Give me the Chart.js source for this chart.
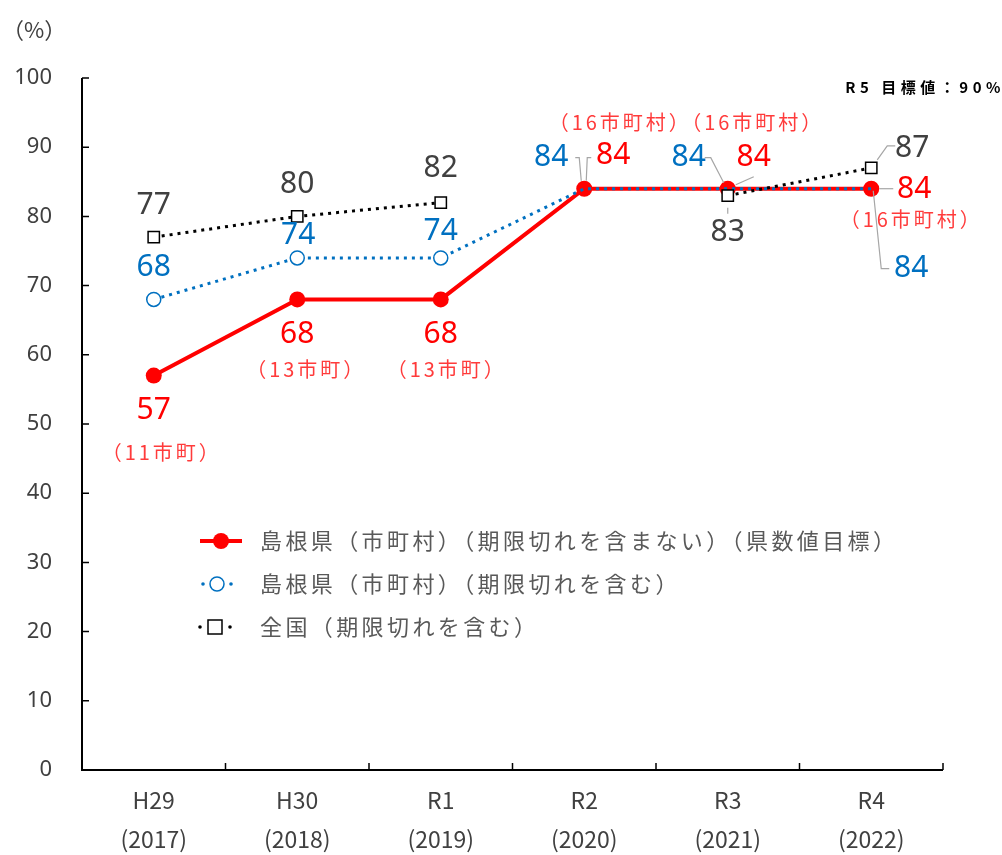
<!DOCTYPE html>
<html lang="ja">
<head>
<meta charset="utf-8">
<script src="https://cdn.jsdelivr.net/npm/chart.js@4"></script>
<style>
  html, body { margin: 0; padding: 0; background: #fff; }
  #wrap { width: 1002px; height: 855px; }
</style>
</head>
<body>
<div id="wrap"><canvas id="chart" width="1002" height="855"></canvas></div>
<script>
const FONT = '"Noto Sans", "Noto Sans CJK JP", sans-serif';
const JP = '"Noto Sans CJK JP", "Noto Sans", sans-serif';

// data
const categories = [['H29', '(2017)'], ['H30', '(2018)'], ['R1', '(2019)'], ['R2', '(2020)'], ['R3', '(2021)'], ['R4', '(2022)']];
const shimaneExcl = [57, 68, 68, 84, 84, 84];
const shimaneIncl = [68, 74, 74, 84, 84, 84];
const national = [77, 80, 82, null, 83, 87];
const municipalities = ['（11市町）', '（13市町）', '（13市町）', '（16市町村）', '（16市町村）', '（16市町村）'];
const yTicks = [0, 10, 20, 30, 40, 50, 60, 70, 80, 90, 100];
const seriesNames = [
  '島根県（市町村）（期限切れを含まない）（県数値目標）',
  '島根県（市町村）（期限切れを含む）',
  '全国（期限切れを含む）'
];
const targetNote = 'R5 目標値：90%';

// label offsets from each point (dx, dy), plus optional leader line
const redLabelPos = [[0, 35], [0, 35], [0, 35], [29, -33], [26, -31], [43, 1]];
const redSubPos = [[8, 77], [9, 70], [6, 70], [36, -66], [25, -66], [40, 31]];
const blueLabelPos = [[0, -32], [1, -22], [0, -26], [-33, -31], [-39, -31], [40, 80]];
const blackLabelPos = [[0, -32], [0, -32], [0, -34], null, [0, 37], [41, -20]];
const blueMarker = [7, 7, 7, 0, 0, 0];
const leaders = [
  // [series, index, points relative to data point]
  ['blue', 3, [[-3, -8], [-5, -31], [-9, -31]]],
  ['red', 3, [[2, -8], [3, -31], [7, -31]]],
  ['blue', 4, [[-4, -6], [-17, -31], [-23, -31]]],
  ['red', 4, [[8, -4], [26, -12]]],
  ['black', 4, [[0, 12], [0, 18]]],
  ['black', 5, [[6, -8], [16, -22], [24, -22]]],
  ['red', 5, [[8, 0], [22, 0]]],
  ['blue', 5, [[2, 2], [10, 80], [18, 80]]]
];

const RED = '#ff0000', BLUE = '#0070c0', DARK = '#404040';

const overlay = {
  id: 'overlay',
  afterDraw(chart) {
    const { ctx, chartArea: a, scales: { x, y } } = chart;
    ctx.save();
    // axes
    ctx.strokeStyle = '#000';
    ctx.lineWidth = 2;
    ctx.beginPath();
    ctx.moveTo(a.left, a.top); ctx.lineTo(a.left, a.bottom); ctx.lineTo(a.right, a.bottom);
    ctx.stroke();
    ctx.lineWidth = 1.5;
    ctx.beginPath();
    yTicks.forEach(v => { const py = y.getPixelForValue(v); ctx.moveTo(a.left, py); ctx.lineTo(a.left + 7, py); });
    const w = (a.right - a.left) / categories.length;
    for (let i = 1; i <= categories.length; i++) {
      const px = a.left + i * w;
      ctx.moveTo(px, a.bottom); ctx.lineTo(px, a.bottom - 7);
    }
    ctx.stroke();

    // leader lines
    const sets = { red: shimaneExcl, blue: shimaneIncl, black: national };
    ctx.strokeStyle = '#a6a6a6';
    ctx.lineWidth = 1.2;
    leaders.forEach(([s, i, pts]) => {
      const px = x.getPixelForValue(i), py = y.getPixelForValue(sets[s][i]);
      ctx.beginPath();
      pts.forEach(([dx, dy], k) => k ? ctx.lineTo(px + dx, py + dy) : ctx.moveTo(px + dx, py + dy));
      ctx.stroke();
    });

    // data labels
    ctx.textAlign = 'center';
    ctx.textBaseline = 'middle';
    const put = (vals, pos, color, font, textFn, spacing) => {
      vals.forEach((v, i) => {
        if (v == null || !pos[i]) return;
        ctx.fillStyle = color;
        ctx.font = font;
        if ('letterSpacing' in ctx) ctx.letterSpacing = spacing || '0px';
        ctx.fillText(textFn(v, i), x.getPixelForValue(i) + pos[i][0], y.getPixelForValue(v) + pos[i][1]);
      });
    };
    put(national, blackLabelPos, DARK, '30px ' + FONT, v => String(v));
    put(shimaneIncl, blueLabelPos, BLUE, '30px ' + FONT, v => String(v));
    put(shimaneExcl, redLabelPos, RED, '30px ' + FONT, v => String(v));
    put(shimaneExcl, redSubPos, '#ff3b3b', '20px ' + JP, (v, i) => municipalities[i], '3px');

    // legend
    const lx = 200, rows = [541, 584, 627];
    ctx.font = '22px ' + JP;
    if ('letterSpacing' in ctx) ctx.letterSpacing = '3.4px';
    ctx.textAlign = 'left';
    ctx.fillStyle = '#595959';
    seriesNames.forEach((n, k) => ctx.fillText(n, 260, rows[k]));
    if ('letterSpacing' in ctx) ctx.letterSpacing = '0px';
    ctx.strokeStyle = RED; ctx.lineWidth = 4;
    ctx.beginPath(); ctx.moveTo(lx, rows[0]); ctx.lineTo(lx + 42, rows[0]); ctx.stroke();
    ctx.fillStyle = RED;
    ctx.beginPath(); ctx.arc(lx + 21, rows[0], 8, 0, Math.PI * 2); ctx.fill();
    ctx.fillStyle = BLUE;
    [lx + 3, lx + 31].forEach(dx => { ctx.beginPath(); ctx.arc(dx, rows[1], 1.8, 0, Math.PI * 2); ctx.fill(); });
    ctx.strokeStyle = BLUE; ctx.lineWidth = 1.5;
    ctx.beginPath(); ctx.arc(lx + 17, rows[1], 7, 0, Math.PI * 2); ctx.stroke();
    ctx.fillStyle = '#000';
    [lx, lx + 30].forEach(dx => { ctx.beginPath(); ctx.arc(dx, rows[2], 1.8, 0, Math.PI * 2); ctx.fill(); });
    ctx.strokeStyle = '#000'; ctx.lineWidth = 1.5;
    ctx.strokeRect(lx + 8, rows[2] - 7, 14, 14);

    // unit and target note
    ctx.fillStyle = DARK;
    ctx.font = '22px ' + JP;
    ctx.fillText('（%）', 2, 30);
    ctx.fillStyle = '#000';
    ctx.font = 'bold 15px ' + JP;
    ctx.textAlign = 'right';
    if ('letterSpacing' in ctx) ctx.letterSpacing = '4.5px';
    ctx.fillText(targetNote, 1005, 87);
    ctx.restore();
  }
};

new Chart(document.getElementById('chart'), {
  type: 'line',
  data: {
    labels: categories,
    datasets: [
      {
        label: seriesNames[0], data: shimaneExcl, order: 3,
        borderColor: RED, borderWidth: 4, backgroundColor: RED,
        pointRadius: 8, pointBackgroundColor: RED, pointBorderColor: RED, pointBorderWidth: 0
      },
      {
        label: seriesNames[1], data: shimaneIncl, order: 2,
        borderColor: BLUE, borderWidth: 3, borderDash: [3, 5],
        pointRadius: blueMarker, pointBackgroundColor: '#fff', pointBorderColor: BLUE, pointBorderWidth: 1.5
      },
      {
        label: seriesNames[2], data: national, order: 1, spanGaps: false,
        borderColor: '#000', borderWidth: 3, borderDash: [3, 5],
        pointStyle: 'rect', pointRadius: 8, pointBackgroundColor: '#fff', pointBorderColor: '#000', pointBorderWidth: 1.5
      }
    ]
  },
  options: {
    responsive: false,
    animation: false,
    layout: { padding: { top: 78, right: 59, left: 0, bottom: 0 } },
    plugins: { legend: { display: false }, tooltip: { enabled: false } },
    scales: {
      x: {
        offset: true,
        grid: { display: false, drawTicks: false },
        border: { display: false },
        ticks: { color: DARK, font: { family: JP, size: 23, lineHeight: 1.7 }, padding: 11, maxRotation: 0 },
        afterFit(s) { s.height = 85; }
      },
      y: {
        min: 0, max: 100,
        grid: { display: false, drawTicks: false },
        border: { display: false },
        ticks: { stepSize: 10, color: DARK, font: { family: FONT, size: 22 }, padding: 30 },
        afterFit(s) { s.width = 82; }
      }
    }
  },
  plugins: [overlay]
});
</script>
</body>
</html>
